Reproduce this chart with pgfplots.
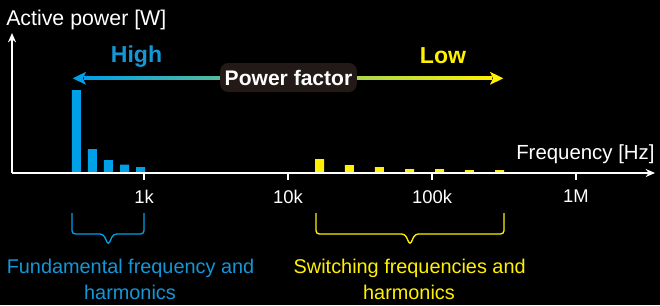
\documentclass[border=0pt]{standalone}
\usepackage{pgfplots}
\pgfplotsset{compat=1.18}
\usepackage{fontspec}
\setmainfont{Liberation Sans}
\usetikzlibrary{arrows.meta}
\definecolor{pblue}{RGB}{0,160,233}
\definecolor{ptblue}{RGB}{20,150,215}
\definecolor{pyellow}{RGB}{255,241,0}
\definecolor{pdark}{RGB}{35,25,22}
\begin{document}
\begin{tikzpicture}[x=0.75pt,y=0.75pt]
\fill[black] (0,0) rectangle (660,305);
\begin{axis}[
  scale only axis, width=482.25pt, height=105pt,
  at={(9pt,99pt)}, anchor=south west,
  xmin=2.0833, xmax=6.5486, ymin=0, ymax=140,
  axis lines*=left,
  axis on top,
  axis line style={white, line width=1.5pt, -{Stealth[length=7pt,width=6pt]}},
  xtick={3,4,5,6}, xticklabels={1k,10k,100k,1M},
  ytick=\empty,
  tick align=outside, major tick length=5.25pt,
  tick style={white, line width=1pt},
  xticklabel style={white, font=\fontsize{13.8}{16}\selectfont, yshift=-4pt},
  clip=false,
]
\addplot[ybar, bar width=6.75pt, bar shift=0pt, fill=pblue, draw=none] coordinates {(2.531,83) (2.642,24) (2.753,13) (2.865,8.3) (2.976,6)};
\addplot[ybar, bar width=6.75pt, bar shift=0pt, fill=pyellow, draw=none] coordinates {(4.219,14) (4.427,8) (4.635,6) (4.844,4) (5.052,4) (5.260,3) (5.469,3)};
\end{axis}
% power factor arrow
\shade[left color=pblue, right color=pyellow] (84,225.2) rectangle (492,228.2);
\fill[pblue] (72.7,226.7) -- (86,233.2) -- (83,226.7) -- (86,220.2) -- cycle;
\fill[pyellow] (503.3,226.7) -- (490,233.2) -- (493,226.7) -- (490,220.2) -- cycle;
\node[fill=pdark, rounded corners=6pt, text=white, font=\bfseries\fontsize{15.8}{18}\selectfont, inner xsep=3.4pt, minimum height=21.75pt] at (288.5,227.5) {Power factor};
\node[anchor=base, text=ptblue, font=\bfseries\fontsize{17.3}{20}\selectfont] at (136.5,242.3) {High};
\node[anchor=base, text=pyellow, font=\bfseries\fontsize{17.3}{20}\selectfont] at (443,241.7) {Low};
% axis titles
\node[anchor=base west, inner sep=0pt, text=white, font=\fontsize{16}{18}\selectfont] at (6,280) {Active power [W]};
\node[anchor=base west, inner sep=0pt, text=white, font=\fontsize{15.3}{18}\selectfont] at (516,145.7) {Frequency [Hz]};
% braces
\draw[pblue, line width=1pt, rounded corners=2.5pt] (72,92) -- (72,71) -- (103.3,71) -- (108.3,60) -- (113.3,71) -- (144,71) -- (144,92);
\draw[pyellow, line width=1pt, rounded corners=2.5pt] (316,92) -- (316,71) -- (405,71) -- (410,60) -- (415,71) -- (504,71) -- (504,92);
% annotations
\node[anchor=base, text=ptblue, font=\fontsize{14.9}{18}\selectfont] at (130.5,31.7) {Fundamental frequency and};
\node[anchor=base, text=ptblue, font=\fontsize{14.9}{18}\selectfont] at (130,6) {harmonics};
\node[anchor=base, text=pyellow, font=\fontsize{14.9}{18}\selectfont] at (409.7,31.7) {Switching frequencies and};
\node[anchor=base, text=pyellow, font=\fontsize{14.9}{18}\selectfont] at (409,6) {harmonics};
\pgfresetboundingbox
\path[use as bounding box] (0,0) rectangle (660,305);
\end{tikzpicture}
\end{document}
